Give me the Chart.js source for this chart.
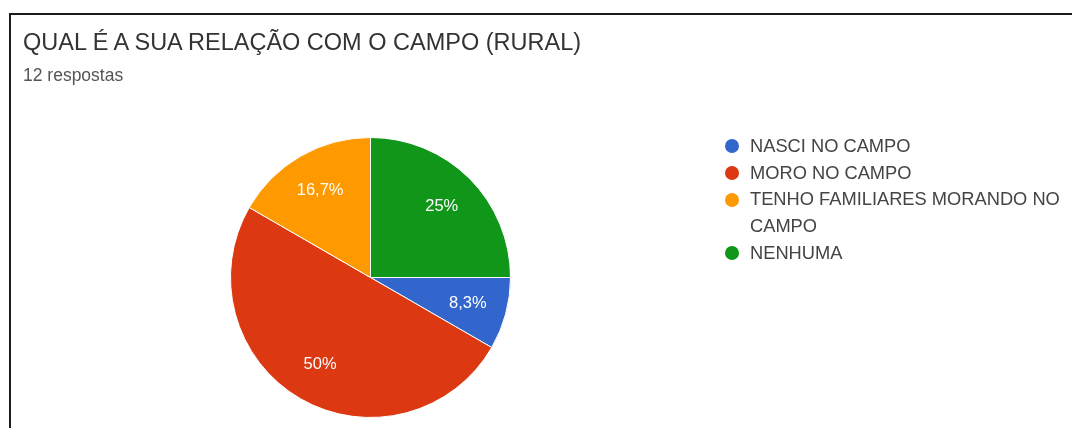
<!DOCTYPE html>
<html lang="pt-BR">
<head>
<meta charset="utf-8">
<title>Relação com o campo (rural)</title>
<script src="https://cdn.jsdelivr.net/npm/chart.js"></script>
<style>
    html, body { margin: 0; padding: 0; }
    body {
        width: 1072px;
        height: 428px;
        overflow: hidden;
        position: relative;
        background: #fff;
        font-family: "Liberation Sans", Arial, sans-serif;
    }
    /* moldura do recorte (só esquerda e topo aparecem) */
    .moldura {
        position: absolute;
        left: 9px;
        top: 13px;
        width: 1100px;
        height: 460px;
        border-left: 2px solid #1c1c1c;
        border-top: 2px solid #1c1c1c;
    }
    #titulo {
        position: absolute;
        left: 23px;
        top: 31px;
        margin: 0;
        font-size: 23.5px;
        line-height: 23.5px;
        font-weight: normal;
        color: #333;
        white-space: nowrap;
    }
    #subtitulo {
        position: absolute;
        left: 23px;
        top: 67px;
        margin: 0;
        font-size: 17.5px;
        line-height: 17.5px;
        color: #555;
        white-space: nowrap;
    }
    #grafico {
        position: absolute;
        left: 0;
        top: 0;
        width: 1072px;
        height: 428px;
    }
    #legenda {
        position: absolute;
        left: 750px;
        top: 133px;
        margin: 0;
        padding: 0;
        list-style: none;
        width: 330px;
        font-size: 18.3px;
        line-height: 26.7px;
        color: #444;
    }
    #legenda li { position: relative; }
    #legenda .ponto {
        position: absolute;
        left: -25px;
        top: 6.2px;
        width: 14px;
        height: 14px;
        border-radius: 50%;
    }
</style>
</head>
<body>
    <div class="moldura"></div>
    <div id="grafico"><canvas id="pizzaCampo"></canvas></div>
    <h2 id="titulo"></h2>
    <p id="subtitulo"></p>
    <ul id="legenda"></ul>

<script>
    // Dados da pergunta
    const titulo = 'QUAL É A SUA RELAÇÃO COM O CAMPO (RURAL)';
    const categorias = ['NASCI NO CAMPO', 'MORO NO CAMPO', 'TENHO FAMILIARES MORANDO NO CAMPO', 'NENHUMA'];
    const respostas = [1, 6, 2, 3];
    const cores = ['#3366cc', '#dc3912', '#ff9900', '#109618'];

    const totalRespostas = respostas.reduce((a, b) => a + b, 0);

    // Percentual com vírgula decimal (8,3%)
    function formatarPercentual(valor) {
        const p = Math.round(valor / totalRespostas * 1000) / 10;
        return String(p).replace('.', ',') + '%';
    }

    // Escreve os percentuais dentro de cada fatia
    const rotulosPercentuais = {
        id: 'rotulosPercentuais',
        afterDatasetsDraw(chart) {
            const ctx = chart.ctx;
            const meta = chart.getDatasetMeta(0);
            ctx.save();
            ctx.font = '16.5px "Liberation Sans", Arial, sans-serif';
            ctx.fillStyle = '#fff';
            ctx.textAlign = 'center';
            ctx.textBaseline = 'middle';
            meta.data.forEach((arco, i) => {
                const p = arco.getProps(['x', 'y', 'startAngle', 'endAngle', 'outerRadius'], true);
                const meio = (p.startAngle + p.endAngle) / 2;
                const dist = p.outerRadius * 0.72;
                ctx.fillText(formatarPercentual(respostas[i]),
                    p.x + Math.cos(meio) * dist,
                    p.y + Math.sin(meio) * dist);
            });
            ctx.restore();
        }
    };

    document.addEventListener('DOMContentLoaded', function() {
        document.getElementById('titulo').textContent = titulo;
        document.getElementById('subtitulo').textContent = totalRespostas + ' respostas';

        // Legenda em HTML (a terceira opção quebra em duas linhas)
        const legenda = document.getElementById('legenda');
        categorias.forEach((nome, i) => {
            const li = document.createElement('li');
            const ponto = document.createElement('span');
            ponto.className = 'ponto';
            ponto.style.background = cores[i];
            li.appendChild(ponto);
            li.appendChild(document.createTextNode(nome));
            legenda.appendChild(li);
        });

        const ctx = document.getElementById('pizzaCampo').getContext('2d');
        new Chart(ctx, {
            type: 'pie',
            data: {
                labels: categorias,
                datasets: [{
                    data: respostas,
                    backgroundColor: cores,
                    borderColor: '#ffffff',
                    borderWidth: 1
                }]
            },
            options: {
                responsive: true,
                maintainAspectRatio: false,
                animation: false,
                rotation: 90, // começa às 3 horas, sentido horário
                layout: {
                    padding: { left: 230, right: 561, top: 137, bottom: 10 }
                },
                plugins: {
                    legend: { display: false },
                    tooltip: { enabled: false }
                }
            },
            plugins: [rotulosPercentuais]
        });
    });
</script>
</body>
</html>
